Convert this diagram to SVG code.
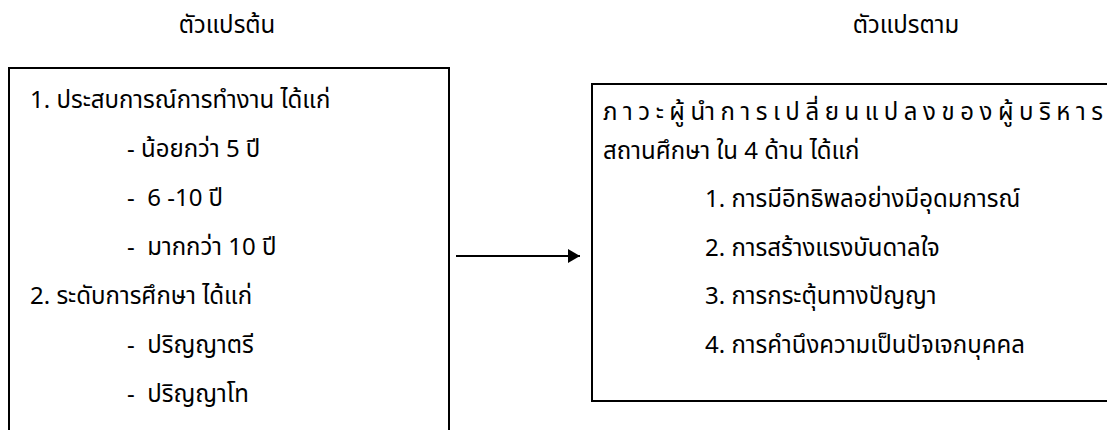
<svg xmlns="http://www.w3.org/2000/svg" width="1107" height="430" viewBox="0 0 1107 430">
<style>
text{font-family:"Noto Sans Thai","Noto Sans","Tahoma",sans-serif;font-size:24px;fill:#000}
.box{fill:#fff;stroke:#000;stroke-width:2}
.conn{stroke:#000;stroke-width:2;fill:none}
</style>
<defs>
<marker id="ah" markerWidth="12" markerHeight="14" refX="12" refY="7" orient="auto" markerUnits="userSpaceOnUse">
<path d="M0,0 L12,7 L0,14 Z" fill="#000"/>
</marker>
</defs>
<rect width="1107" height="430" fill="#fff"/>
<g id="title-independent"><text x="227" y="33" text-anchor="middle">ตัวแปรต้น</text></g>
<g id="title-dependent"><text x="906" y="33" text-anchor="middle">ตัวแปรตาม</text></g>
<g id="node-independent">
<rect class="box" x="9" y="68" width="440" height="380"/>
<text x="30" y="108">1. ประสบการณ์การทำงาน ได้แก่</text>
<text x="127" y="157">- น้อยกว่า 5 ปี</text>
<text x="127" y="206" xml:space="preserve">-  6 -10 ปี</text>
<text x="127" y="255" xml:space="preserve">-  มากกว่า 10 ปี</text>
<text x="30" y="304">2. ระดับการศึกษา ได้แก่</text>
<text x="127" y="353" xml:space="preserve">-  ปริญญาตรี</text>
<text x="127" y="402" xml:space="preserve">-  ปริญญาโท</text>
</g>
<g id="node-dependent">
<rect class="box" x="592" y="84" width="530" height="317"/>
<text x="603" y="120" textLength="500" lengthAdjust="spacing">ภาวะผู้นำการเปลี่ยนแปลงของผู้บริหาร</text>
<text x="603" y="159">สถานศึกษา ใน 4 ด้าน ได้แก่</text>
<text x="705" y="207">1. การมีอิทธิพลอย่างมีอุดมการณ์</text>
<text x="705" y="256">2. การสร้างแรงบันดาลใจ</text>
<text x="705" y="304">3. การกระตุ้นทางปัญญา</text>
<text x="705" y="353">4. การคำนึงความเป็นปัจเจกบุคคล</text>
</g>
<g id="connectors">
<line class="conn" x1="456" y1="256" x2="580" y2="256" marker-end="url(#ah)"/>
</g>
</svg>
